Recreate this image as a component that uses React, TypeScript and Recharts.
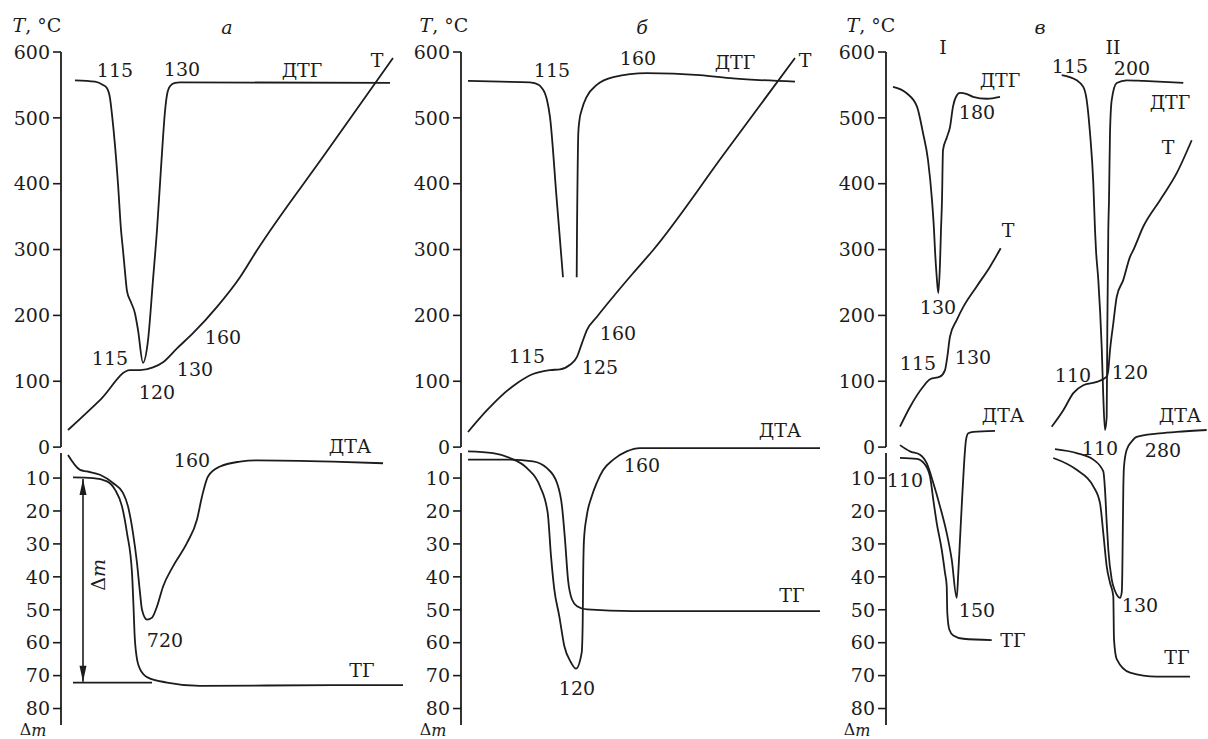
import React from "react";
import { LineChart, Line, XAxis, YAxis, ReferenceLine, ReferenceDot } from "recharts";

type Pt = [number, number];
type Lbl = { t: number; v: number; text: string; kind?: "it" | "axisT" | "dm" | "dmRot" };

const INK = "#1c1c1c";
const FONT = "DejaVu Serif";

// y axis ticks: upper part is temperature (°C), lower part is mass loss Δm
const tempTicks = [600, 500, 400, 300, 200, 100, 0];
const massTicks = [10, 20, 30, 40, 50, 60, 70, 80];

// both parts share one vertical scale: T drawn as is, Δm drawn as 3 - 5·Δm
const dm = (m: number) => 3 - 5 * m;
const yTicks = [...tempTicks, ...massTicks.map(dm)];
const fmtTick = (v: number) => (v >= 0 ? String(v) : String(Math.round((3 - v) / 5)));

// ---- panel а (time in arbitrary units, T in °C, Δm in %) ----
const tA: Pt[] = [[7, 26], [40, 73], [69, 117], [79, 117], [92, 121], [102, 129], [116, 150], [132, 173], [156, 213], [179, 258], [196, 299], [264, 445], [332, 591]];
const dtgA: Pt[] = [[14, 557], [34, 555], [42, 550], [46, 545], [49, 530], [51, 505], [57, 400], [60, 330], [62, 299], [64, 266], [66, 237], [70, 220], [74, 203], [77, 178], [82, 128], [87, 162], [92, 254], [96, 330], [99, 400], [102, 470], [104, 510], [106, 535], [109, 548], [114, 553], [119, 554], [329, 553]];
const dtaA: Pt[] = [[7, 3], [19, 7.5], [26, 8], [39, 9], [52, 11.5], [62, 14.5], [67, 18.6], [72, 26.7], [76, 35.8], [79, 44.8], [81, 50], [86, 53], [91, 52.4], [96, 49], [102, 43], [112, 36.8], [126, 29.7], [136, 22.6], [141, 15.6], [147, 9.5], [159, 6.5], [179, 5], [196, 4.6], [272, 5], [322, 5.5]];
const tgA: Pt[] = [[12, 9.8], [32, 10], [46, 11], [54, 13.5], [61, 18.6], [66, 26.7], [71, 38.8], [72.5, 48.9], [73.5, 57], [75.5, 64], [79, 68], [87, 70.6], [106, 72.1], [139, 73.1], [272, 72.9], [342, 72.9]];
const baseA: Pt[] = [[12, 72.1], [91, 72.1]];

// ---- panel б ----
const tB: Pt[] = [[7, 23], [26, 56], [39, 76], [56, 97], [72, 111], [89, 117], [99, 118], [109, 125], [116, 137], [121, 158], [126, 178], [136, 198], [152, 228], [172, 264], [192, 299], [263, 445], [334, 591]];
const dtgB1: Pt[] = [[7, 556], [40, 555], [69, 554], [78, 550], [81, 545], [84, 537], [86, 527], [89, 501], [95.5, 380], [102, 258]];
const dtgB2: Pt[] = [[115.7, 258], [116, 330], [116.3, 375], [117.3, 477], [118.5, 497], [120.7, 512], [125.7, 532], [135.7, 550], [152.3, 562], [185.7, 568], [239, 565], [272, 560], [334, 555]];
const dtaB: Pt[] = [[7, 1.9], [32, 2.4], [49, 3.9], [66, 7], [79, 12.5], [86.7, 20.6], [90, 33.7], [93.3, 43.8], [98.3, 52], [103.3, 61], [110, 66], [115, 67.9], [120.7, 63], [121.7, 54], [122.2, 38.8], [123, 28.7], [125.7, 21.6], [130.7, 15.6], [135.7, 11.5], [142.3, 7.5], [152.3, 4.4], [165.7, 1.9], [179, 0.9], [359, 0.9]];
const tgB: Pt[] = [[7, 4.4], [49, 4.4], [72, 4.9], [86, 7], [96, 11.5], [101, 18.6], [104, 28.7], [107, 40.8], [111, 46.9], [116, 48.9], [126, 49.9], [172, 50.4], [359, 50.4]];

// ---- panel в, sample I ----
const tC1: Pt[] = [[14, 31], [24, 61], [37.3, 92], [44, 103], [54, 107], [59, 117], [61.3, 137], [64, 168], [70.7, 193], [77.3, 213], [90.7, 244], [104, 274], [114.7, 302]];
const dtgC1: Pt[] = [[7, 547], [21, 537], [31, 517], [37, 477], [42, 436], [46, 375], [48, 330], [49, 299], [50.7, 259], [52.3, 234], [54, 279], [55, 330], [56, 375], [57, 451], [61, 471], [64, 486], [67, 517], [70, 532], [74, 538], [81, 536], [87, 532], [101, 529], [114, 532]];
const dtaC1: Pt[] = [[14, 0], [24, 1.9], [34, 2.9], [40.7, 5.5], [47.3, 11.5], [54, 18.6], [60.7, 26.7], [65.7, 34.7], [70.7, 46.4], [72.3, 38.8], [74, 28.7], [75.7, 18.6], [78, 6], [80, -1.6], [82.3, -3.6], [87.3, -4.0], [109, -4.3]];
const tgC1: Pt[] = [[14, 3.9], [30.7, 4.2], [39, 5.9], [44, 9.5], [47.3, 16.6], [50.7, 23.6], [55.7, 31.7], [59, 38.8], [60.7, 42.8], [61.3, 50.9], [63.3, 56], [67.3, 57.8], [77.3, 58.8], [105.7, 59.2]];

// ---- panel в, sample II ----
const tC2: Pt[] = [[165.7, 31], [177.3, 56], [187.3, 82], [197.3, 94], [210.7, 99], [220.7, 107], [222.3, 117], [224, 147], [227.3, 188], [230.7, 228], [237.3, 254], [244, 289], [247.3, 299], [257.3, 335], [274, 375], [290.7, 416], [305.7, 466]];
const dtgC2: Pt[] = [[175.7, 565], [190.7, 557], [197.3, 547], [200.7, 527], [204, 477], [207.3, 401], [209, 330], [210, 299], [212.3, 254], [215.7, 152], [217.3, 76], [219, 26], [220.7, 46], [221.3, 178], [222.3, 330], [223, 375], [224, 477], [225.7, 527], [230.7, 553], [240.7, 557], [257.3, 556], [297.3, 553]];
const dtaC2: Pt[] = [[169, 1.2], [190.7, 2.4], [207.3, 4.4], [217.3, 8], [219, 13.5], [220.7, 23.6], [222.3, 31.7], [225.7, 40.8], [229, 44.3], [232.3, 46.1], [234, 46.4], [235.7, 44.8], [236.3, 38.8], [236.7, 28.7], [237.3, 13.5], [238, 6.5], [240.7, 1.4], [245.7, -1.1], [250.7, -2.5], [270.7, -3.5], [290.7, -4.0], [320.7, -4.6]];
const tgC2: Pt[] = [[167.3, 3.9], [190.7, 7.5], [207.3, 12.5], [214, 17.6], [217.3, 26.7], [220.7, 36.8], [224, 41.8], [227.3, 45.9], [228, 59], [230.7, 65], [244, 69.1], [270.7, 70.3], [304, 70.3]];

// annotations (t, plot value)
const labelsA: Lbl[] = [
  { t: -24, v: 641, text: "T, °C", kind: "axisT" },
  { t: 166, v: 638, text: "а", kind: "it" },
  { t: 54, v: 573, text: "115" }, { t: 121, v: 574, text: "130" },
  { t: 241, v: 573, text: "ДТГ" }, { t: 316, v: 588, text: "T" },
  { t: 49, v: 135, text: "115" }, { t: 96, v: 84, text: "120" },
  { t: 134, v: 118, text: "130" }, { t: 162, v: 167, text: "160" },
  { t: 289, v: 2, text: "ДТА" }, { t: 131, v: -20, text: "160" },
  { t: 104, v: -293, text: "720" }, { t: 301, v: -339, text: "ТГ" },
  { t: 37, v: -194, text: "Δm", kind: "dmRot" },
  { t: -28, v: -429, text: "Δm", kind: "dm" },
];
const labelsB: Lbl[] = [
  { t: -17, v: 641, text: "T, °C", kind: "axisT" },
  { t: 181, v: 638, text: "б", kind: "it" },
  { t: 91, v: 573, text: "115" }, { t: 177, v: 591, text: "160" },
  { t: 274, v: 585, text: "ДТГ" }, { t: 344, v: 588, text: "T" },
  { t: 66, v: 138, text: "115" }, { t: 139, v: 122, text: "125" },
  { t: 157, v: 173, text: "160" }, { t: 319, v: 26, text: "ДТА" },
  { t: 181, v: -27, text: "160" }, { t: 116, v: -366, text: "120" },
  { t: 331, v: -225, text: "ТГ" },
  { t: -28, v: -429, text: "Δm", kind: "dm" },
];
const labelsC: Lbl[] = [
  { t: -15, v: 641, text: "T, °C", kind: "axisT" },
  { t: 154, v: 638, text: "в", kind: "it" },
  { t: 57, v: 608, text: "I" }, { t: 227, v: 608, text: "II" },
  { t: 114, v: 557, text: "ДТГ" }, { t: 91, v: 509, text: "180" },
  { t: 184, v: 579, text: "115" }, { t: 246, v: 576, text: "200" },
  { t: 284, v: 524, text: "ДТГ" }, { t: 282, v: 456, text: "T" },
  { t: 122, v: 330, text: "T" }, { t: 52, v: 213, text: "130" },
  { t: 32, v: 128, text: "115" }, { t: 87, v: 137, text: "130" },
  { t: 187, v: 109, text: "110" }, { t: 244, v: 114, text: "120" },
  { t: 117, v: 49, text: "ДТА" }, { t: 294, v: 49, text: "ДТА" },
  { t: 214, v: -2, text: "110" }, { t: 277, v: -5, text: "280" },
  { t: 19, v: -50, text: "110" }, { t: 91, v: -248, text: "150" },
  { t: 127, v: -293, text: "ТГ" }, { t: 254, v: -240, text: "130" },
  { t: 291, v: -319, text: "ТГ" },
  { t: -29, v: -429, text: "Δm", kind: "dm" },
];

const textProps = {
  textAnchor: "middle" as const,
  dominantBaseline: "central" as const,
  fill: INK,
  fontSize: 19,
  fontFamily: FONT,
};

function renderLabel(l: Lbl, cx: number, cy: number) {
  if (l.kind === "axisT")
    return (
      <text x={cx} y={cy} {...textProps}>
        <tspan fontStyle="italic">T</tspan>, °C
      </text>
    );
  if (l.kind === "dm" || l.kind === "dmRot")
    return (
      <text
        x={cx}
        y={cy}
        {...textProps}
        fontSize={l.kind === "dm" ? 16 : 19}
        transform={l.kind === "dmRot" ? `rotate(-90 ${cx} ${cy})` : undefined}
      >
        Δ<tspan fontStyle="italic">m</tspan>
      </text>
    );
  return (
    <text x={cx} y={cy} {...textProps} fontStyle={l.kind === "it" ? "italic" : "normal"}>
      {l.text}
    </text>
  );
}

interface PanelProps {
  left: number;
  plotW: number;
  temp: Pt[][];
  mass: Pt[][];
  labels: Lbl[];
  arrow?: { t: number; from: number; to: number };
}

function Panel({ left, plotW, temp, mass, labels, arrow }: PanelProps) {
  const lineProps = {
    dataKey: "v",
    type: "monotone" as const,
    stroke: INK,
    strokeWidth: 1.8,
    dot: false,
    isAnimationActive: false,
  };
  return (
    <div style={{ position: "absolute", left, top: 0 }}>
      <LineChart width={plotW + 60} height={739} margin={{ top: 52, right: 0, bottom: 14, left: 0 }}>
        <XAxis type="number" dataKey="t" domain={[0, plotW]} hide allowDataOverflow />
        <YAxis
          type="number"
          domain={[-422, 600]}
          ticks={yTicks}
          interval={0}
          width={60}
          axisLine={false}
          tickLine={{ stroke: INK, strokeWidth: 1.6 }}
          tickSize={8}
          tickMargin={3}
          tick={{ fill: INK, fontSize: 19, fontFamily: FONT }}
          tickFormatter={fmtTick}
          allowDataOverflow
        />
        <ReferenceLine segment={[{ x: 0, y: 600 }, { x: 0, y: 0 }]} stroke={INK} strokeWidth={1.8} ifOverflow="visible" />
        <ReferenceLine segment={[{ x: 0, y: -9 }, { x: 0, y: -422 }]} stroke={INK} strokeWidth={1.8} ifOverflow="visible" />
        {temp.map((s, i) => (
          <Line key={"T" + i} {...lineProps} data={s.map(([t, v]) => ({ t, v }))} />
        ))}
        {mass.map((s, i) => (
          <Line key={"M" + i} {...lineProps} data={s.map(([t, m]) => ({ t, v: dm(m) }))} />
        ))}
        {arrow && (
          <ReferenceLine
            segment={[{ x: arrow.t, y: dm(arrow.from) }, { x: arrow.t, y: dm(arrow.to) }]}
            stroke={INK}
            strokeWidth={1.6}
            ifOverflow="visible"
          />
        )}
        {arrow && (
          <ReferenceDot
            x={arrow.t}
            y={dm(arrow.from)}
            r={0}
            ifOverflow="visible"
            shape={(p: any) => <polygon points={`${p.cx},${p.cy} ${p.cx - 3.5},${p.cy + 16} ${p.cx + 3.5},${p.cy + 16}`} fill={INK} />}
          />
        )}
        {arrow && (
          <ReferenceDot
            x={arrow.t}
            y={dm(arrow.to)}
            r={0}
            ifOverflow="visible"
            shape={(p: any) => <polygon points={`${p.cx},${p.cy} ${p.cx - 3.5},${p.cy - 16} ${p.cx + 3.5},${p.cy - 16}`} fill={INK} />}
          />
        )}
        {labels.map((l, i) => (
          <ReferenceDot
            key={"L" + i}
            x={l.t}
            y={l.v}
            r={0}
            ifOverflow="visible"
            shape={(p: any) => renderLabel(l, p.cx, p.cy)}
          />
        ))}
      </LineChart>
    </div>
  );
}

export default function App() {
  return (
    <div style={{ position: "absolute", left: 0, top: 0, width: 1208, height: 739, background: "#fff" }}>
      <Panel
        left={1}
        plotW={344}
        temp={[tA, dtgA]}
        mass={[dtaA, tgA, baseA]}
        labels={labelsA}
        arrow={{ t: 22, from: 10.3, to: 71.9 }}
      />
      <Panel left={401} plotW={361} temp={[tB, dtgB1, dtgB2]} mass={[dtaB, tgB]} labels={labelsB} />
      <Panel left={826} plotW={322} temp={[tC1, dtgC1, tC2, dtgC2]} mass={[dtaC1, tgC1, dtaC2, tgC2]} labels={labelsC} />
    </div>
  );
}
